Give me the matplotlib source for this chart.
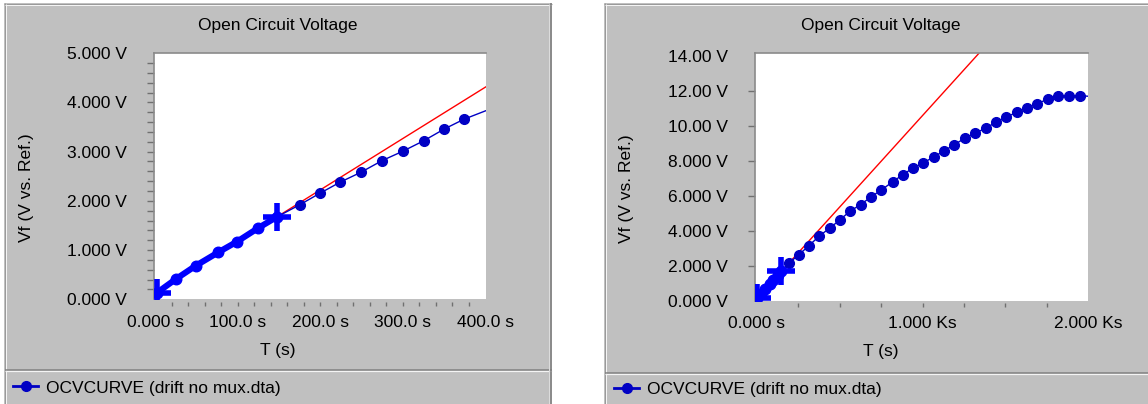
import matplotlib
matplotlib.use('Agg')
import matplotlib.pyplot as plt
from matplotlib.lines import Line2D
from matplotlib.patches import Rectangle
from matplotlib.ticker import FixedLocator, FixedFormatter

plt.rcParams['font.family'] = ['Liberation Sans', 'DejaVu Sans']

W, H = 1148, 404

# ---------------- data ----------------
fit_region_t = [2, 25, 49, 76, 99, 124, 147]
fit_region_v = [0.13, 0.41, 0.68, 0.95, 1.17, 1.44, 1.67]
cross_t = [2, 147]
cross_v = [0.13, 1.67]
fit_line_t = [147, 1400]
fit_line_v = [1.67, 14.76]

left_t = [147, 175, 199, 224, 249, 275, 300, 325, 350, 374, 400]
left_v = [1.67, 1.92, 2.15, 2.38, 2.58, 2.82, 3.01, 3.22, 3.46, 3.66, 3.83]

right_t = [147, 191, 251, 312, 377, 438, 500, 561, 626, 690, 751, 821, 880,
           941, 1000, 1070, 1131, 1190, 1254, 1317, 1380, 1442, 1505, 1568,
           1627, 1690, 1758, 1817, 1881, 1948, 1996]
right_v = [1.67, 2.14, 2.61, 3.13, 3.70, 4.14, 4.61, 5.11, 5.49, 5.94, 6.33,
           6.80, 7.20, 7.57, 7.85, 8.23, 8.57, 8.90, 9.28, 9.57, 9.85, 10.19,
           10.48, 10.77, 10.99, 11.24, 11.53, 11.71, 11.71, 11.71, 11.68]

left_xticks = [0, 100, 200, 300, 400]
left_xlabels = ['0.000 s', '100.0 s', '200.0 s', '300.0 s', '400.0 s']
left_xminor = [20, 40, 60, 80, 100, 120, 140, 160, 180, 200, 220, 240, 260,
               280, 300, 320, 340, 360, 380]
left_yticks = [0, 1, 2, 3, 4, 5]
left_ylabels = ['0.000 V', '1.000 V', '2.000 V', '3.000 V', '4.000 V', '5.000 V']
left_yminor = [0.2, 0.4, 0.6, 0.8, 1.0, 1.2, 1.4, 1.6, 1.8, 2.0, 2.2, 2.4,
               2.6, 2.8, 3.0, 3.2, 3.4, 3.6, 3.8, 4.0, 4.2, 4.4, 4.6, 4.8]

right_xticks = [0, 1000, 2000]
right_xlabels = ['0.000 s', '1.000 Ks', '2.000 Ks']
right_xminor = [250, 500, 750, 1000, 1250, 1500, 1750]
right_yticks = [0, 2, 4, 6, 8, 10, 12, 14]
right_ylabels = ['0.000 V', '2.000 V', '4.000 V', '6.000 V', '8.000 V',
                 '10.00 V', '12.00 V', '14.00 V']
right_yminor = [2, 4, 6, 8, 10, 12]

title_text = 'Open Circuit Voltage'
xlabel_text = 'T (s)'
ylabel_text = 'Vf (V vs. Ref.)'
legend_text = 'OCVCURVE (drift no mux.dta)'

# ---------------- styling ----------------
GRAY = '#c0c0c0'
DARK = '#808080'
NAVY = '#0000c4'
BLUE = '#0000ff'
FS = 12.5

fig = plt.figure(figsize=(W / 100, H / 100), dpi=100)
fig.patch.set_facecolor('white')


def fx(px):
    return px / W


def fy(py):
    return 1 - py / H


def fline(x0, y0, x1, y1, color, lw=1.0):
    fig.add_artist(Line2D([fx(x0), fx(x1)], [fy(y0), fy(y1)],
                          transform=fig.transFigure, color=color,
                          lw=lw * 0.72, solid_capstyle='butt', zorder=-0.5))


def panel(x0, x1, sep):
    fig.patches.append(Rectangle((fx(x0), fy(404)), fx(x1) - fx(x0),
                                 fy(3) - fy(404), transform=fig.transFigure,
                                 facecolor=GRAY, edgecolor='none', zorder=-1))
    fline(x0 + 0.5, 3, x0 + 0.5, 404, '#9a9a9a')
    fline(x0, 3.5, x1, 3.5, '#9a9a9a')
    fline(x0 + 1.5, 4, x0 + 1.5, 404, '#f4f4f4')
    fline(x0 + 1, 4.5, x1, 4.5, '#f4f4f4')
    fline(x0 + 1, sep, x1, sep, DARK, 1.5)
    fline(x0 + 1, sep + 1.5, x1, sep + 1.5, '#f4f4f4', 1.2)
    if x1 < W:
        fline(x1 - 0.8, 3, x1 - 0.8, 404, DARK, 1.6)
        fline(x1 - 2.2, 4, x1 - 2.2, 404, '#dcdcdc', 1.0)


panel(4, 551.5, 369.8)
panel(604, W + 5, 372.8)


def make_axes(rect_px, xlim, ylim):
    x0, x1, y0, y1 = rect_px
    ax = fig.add_axes([fx(x0), fy(y1), fx(x1) - fx(x0), fy(y0) - fy(y1)])
    ax.set_zorder(1)
    ax.set_facecolor('white')
    ax.set_xlim(*xlim)
    ax.set_ylim(*ylim)
    for s in ('right', 'bottom'):
        ax.spines[s].set_visible(False)
    for s in ('top', 'left'):
        ax.spines[s].set_color('#8a8a8a')
        ax.spines[s].set_linewidth(1.2)
    ax.spines['bottom'].set_position(('outward', 2))
    ax.xaxis.remove_overlapping_locs = False
    ax.yaxis.remove_overlapping_locs = False
    ax.tick_params(which='major', length=0, labelsize=FS, colors='black')
    ax.tick_params(axis='y', which='major', pad=19.5)
    ax.tick_params(axis='x', which='major', pad=9.2)
    ax.tick_params(axis='y', which='minor', length=5, width=1.0,
                   color='#707070', direction='out')
    ax.tick_params(axis='x', which='minor', length=3, width=1.0,
                   color='#707070', direction='out')
    return ax


def set_ticks(ax, xt, xl, xm, yt, yl, ym):
    ax.xaxis.set_major_locator(FixedLocator(xt))
    ax.xaxis.set_major_formatter(FixedFormatter(xl))
    ax.xaxis.set_minor_locator(FixedLocator(xm))
    ax.yaxis.set_major_locator(FixedLocator(yt))
    ax.yaxis.set_major_formatter(FixedFormatter(yl))
    ax.yaxis.set_minor_locator(FixedLocator(ym))


def draw_series(ax, t, v, ms, hl_lw):
    ax.plot(fit_line_t, fit_line_v, color='#ff0000', lw=1.0, zorder=2)
    ax.plot(t, v, color=NAVY, lw=1.0, marker='o', ms=ms, mec=NAVY,
            mfc=NAVY, markevery=slice(1, len(t) - 1), zorder=3)
    ax.plot(fit_region_t, fit_region_v, color=BLUE, lw=hl_lw, marker='o',
            ms=ms + 0.6, mfc=BLUE, mec=BLUE, solid_capstyle='butt', zorder=4)
    ax.plot(cross_t, cross_v, ls='none', marker='+', ms=20, mew=4.0,
            color=BLUE, zorder=5)


# left panel
axL = make_axes((154, 485.5, 53.3, 299.2), (-1.5, 400), (0, 5))
set_ticks(axL, left_xticks, left_xlabels, left_xminor,
          left_yticks, left_ylabels, left_yminor)
draw_series(axL, left_t, left_v, 7, 4.4)

# right panel
axR = make_axes((755, 1088.3, 53.3, 300.7), (-12, 2000), (0, 14.13))
set_ticks(axR, right_xticks, right_xlabels, right_xminor,
          right_yticks, right_ylabels, right_yminor)
draw_series(axR, right_t, right_v, 7, 4.4)

# panel texts
for cx, ty, xly, ylx, yly in ((278, 25.7, 350, 26, 187.5),
                              (880.5, 25.7, 351.7, 626.5, 188.3)):
    fig.text(fx(cx), fy(ty), title_text, ha='center', va='center', fontsize=FS)
    fig.text(fx(cx), fy(xly), xlabel_text, ha='center', va='center', fontsize=FS)
    fig.text(fx(ylx), fy(yly), ylabel_text, ha='center', va='center',
             rotation=90, fontsize=FS)

# legends
for ax, lx, ly in ((axL, 13, 388), (axR, 614, 389.3)):
    h = Line2D([], [], color=NAVY, lw=2.0, marker='o', ms=7, mfc=NAVY, mec=NAVY)
    ax.legend(handles=[h], labels=[legend_text], loc='center left',
              bbox_to_anchor=(fx(lx), fy(ly)), bbox_transform=fig.transFigure,
              frameon=False, borderpad=0, borderaxespad=0,
              handlelength=1.44, handletextpad=0.46, fontsize=FS)

fig.savefig('out.png', dpi=100, facecolor='white')
